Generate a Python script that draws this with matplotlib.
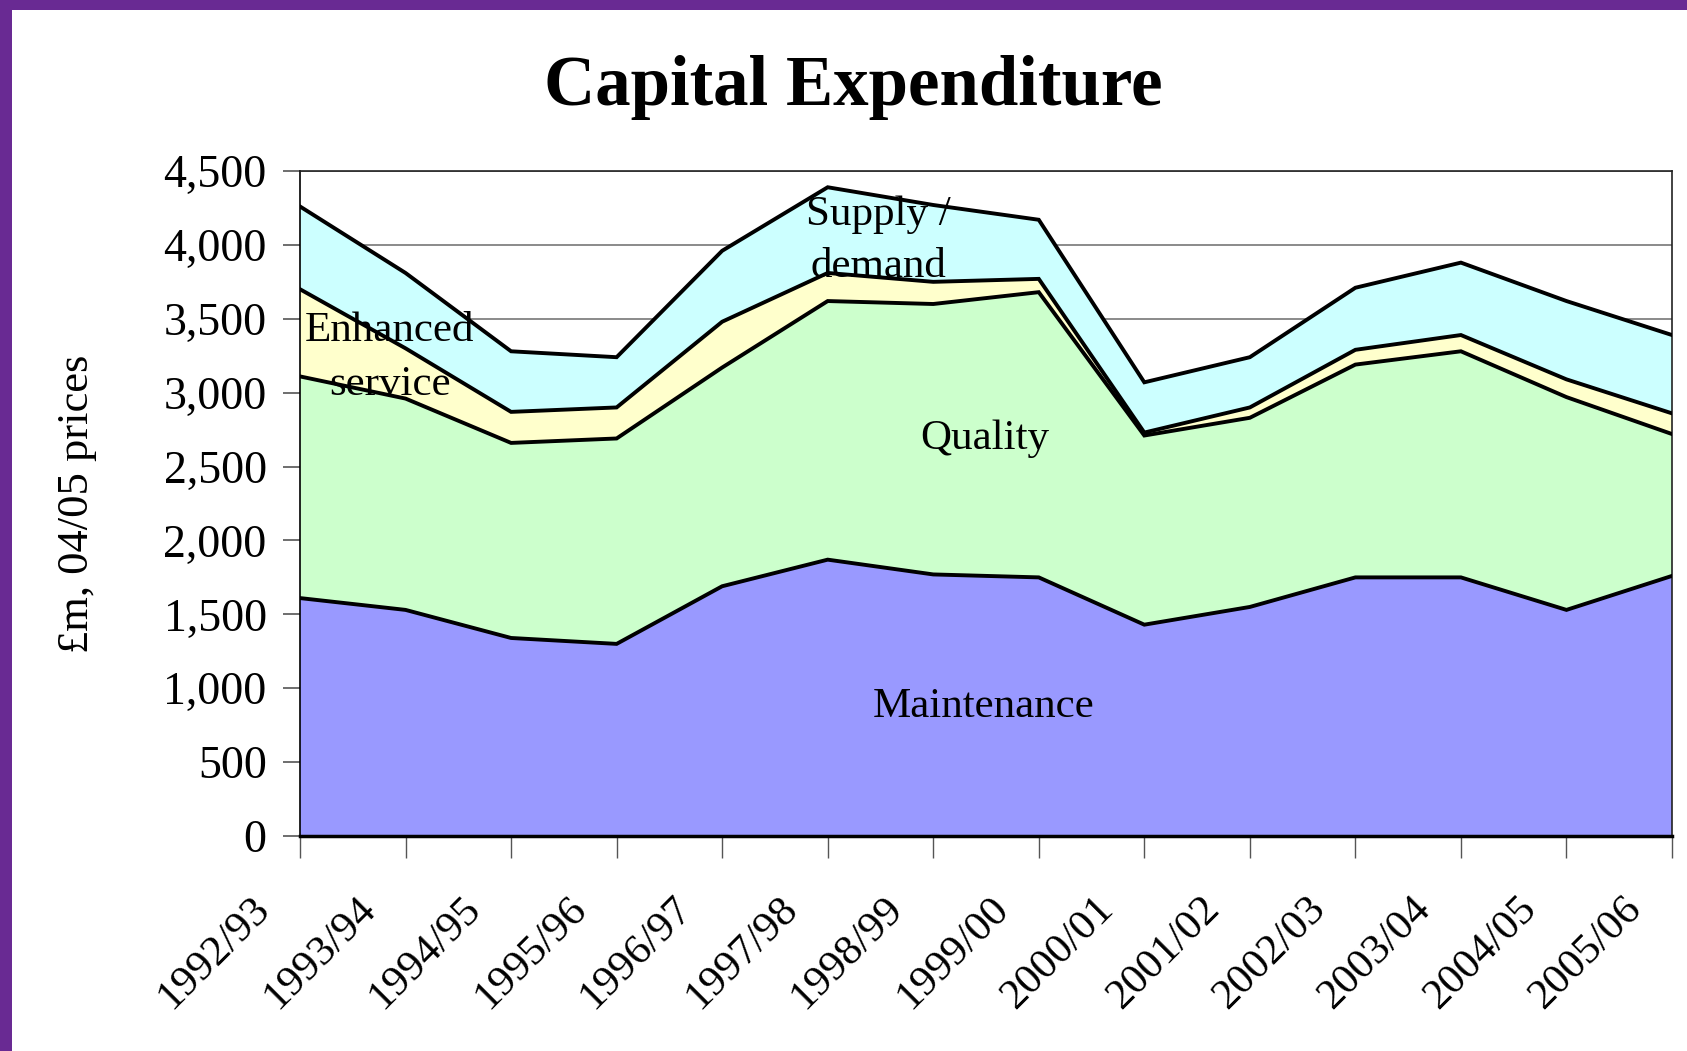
import matplotlib
matplotlib.use("Agg")
import matplotlib.pyplot as plt
import matplotlib.transforms as mtransforms
from matplotlib.patches import Rectangle
import numpy as np

years = ["1992/93", "1993/94", "1994/95", "1995/96", "1996/97", "1997/98", "1998/99",
         "1999/00", "2000/01", "2001/02", "2002/03", "2003/04", "2004/05", "2005/06"]
maintenance = [1610, 1530, 1340, 1300, 1690, 1870, 1770, 1750, 1430, 1550, 1750, 1750, 1530, 1760]
quality = [1500, 1430, 1320, 1390, 1480, 1750, 1830, 1930, 1280, 1280, 1440, 1530, 1440, 960]
enhanced_service = [590, 340, 210, 210, 310, 190, 150, 90, 20, 70, 100, 110, 120, 140]
supply_demand = [560, 510, 410, 340, 480, 580, 520, 400, 340, 340, 420, 490, 530, 530]
yticks = [0, 500, 1000, 1500, 2000, 2500, 3000, 3500, 4000, 4500]

colors = ["#9999FF", "#CCFFCC", "#FFFFCC", "#CCFFFF"]
serif = ["Liberation Serif", "DejaVu Serif"]

W, H = 1687, 1051
fig = plt.figure(figsize=(W / 100, H / 100), dpi=100)
fig.patch.set_facecolor("white")

# purple border
fig.patches.append(Rectangle((0, 0), 12 / W, 1, transform=fig.transFigure,
                             facecolor="#692A93", edgecolor="none", zorder=0))
fig.patches.append(Rectangle((0, 1 - 10 / H), 1, 10 / H, transform=fig.transFigure,
                             facecolor="#692A93", edgecolor="none", zorder=0))

ax = fig.add_axes([300 / W, 1 - 836 / H, (1672 - 300) / W, (836 - 171) / H])

x = np.arange(len(years))
series = [maintenance, quality, enhanced_service, supply_demand]
cum = np.zeros(len(years))
for vals, c in zip(series, colors):
    top = cum + np.array(vals)
    ax.fill_between(x, cum, top, facecolor=c, edgecolor="none", zorder=2)
    ax.plot(x, top, color="black", lw=2.8, zorder=3, solid_joinstyle="miter")
    cum = top

ax.set_xlim(0, len(years) - 1)
ax.set_ylim(0, 4500)
ax.set_yticks(yticks)
ax.set_yticklabels([f"{v:,}" for v in yticks], fontfamily=serif, fontsize=33)
ax.yaxis.grid(True, color="#777777", lw=1.2, zorder=1)
ax.set_axisbelow(True)
ax.tick_params(axis="y", direction="out", length=12, width=1.2, color="#555555", pad=12)
ax.tick_params(axis="x", direction="out", length=16, width=1, color="#555555")
for s in ["top", "right"]:
    ax.spines[s].set_linewidth(1.2)
    ax.spines[s].set_color("#222222")
ax.spines["left"].set_linewidth(1.2)
ax.spines["bottom"].set_linewidth(2.5)
ax.spines["bottom"].set_zorder(4)

ax.set_xticks(x)
ax.set_xticklabels(years, fontfamily=serif, fontsize=31, rotation=45,
                   ha="right", va="top", rotation_mode="anchor")
offset = mtransforms.ScaledTranslation(-50 / 100, -26 / 100, fig.dpi_scale_trans)
for lab in ax.get_xticklabels():
    lab.set_transform(lab.get_transform() + offset)

ax.set_ylabel("£m, 04/05 prices", fontfamily=serif, fontsize=32)
ax.yaxis.set_label_coords(-0.148, 0.5)

fig.text(0.506, 1 - 87 / H, "Capital Expenditure", ha="center", va="center",
         fontfamily=serif, fontsize=51, fontweight="bold")

lab_kw = dict(fontfamily=serif, fontsize=31, zorder=5, ha="center", va="center")
ax.text(0.85, 3416, "Enhanced", **lab_kw)
ax.text(0.85, 3052, "service", **lab_kw)
ax.text(5.48, 4202, "Supply /", **lab_kw)
ax.text(5.48, 3853, "demand", **lab_kw)
ax.text(6.49, 2688, "Quality", **lab_kw)
ax.text(6.48, 874, "Maintenance", **lab_kw)

fig.savefig("out.png", dpi=100)
